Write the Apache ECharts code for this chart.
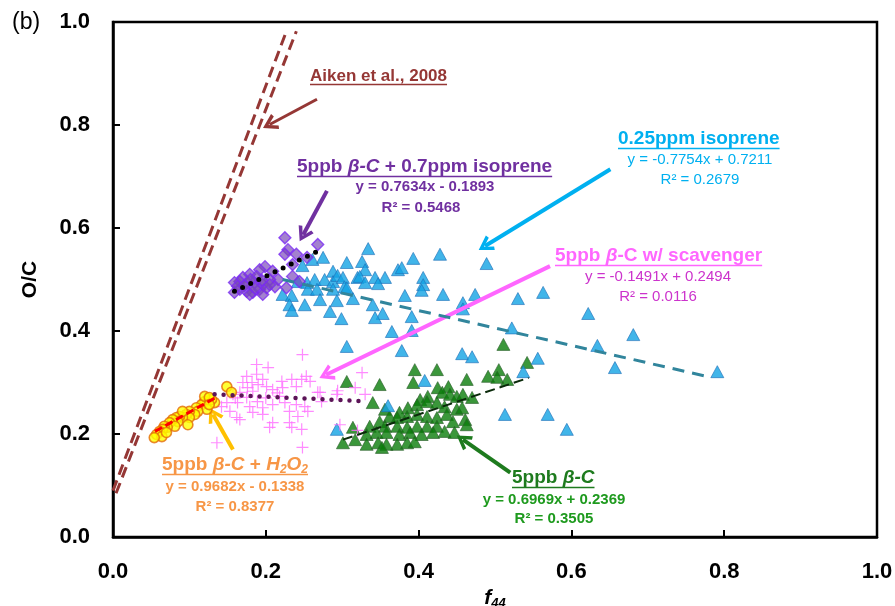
<!DOCTYPE html>
<html><head><meta charset="utf-8">
<script src="https://cdn.jsdelivr.net/npm/echarts@6/dist/echarts.min.js"></script>
<style>html,body{margin:0;padding:0;background:#fff;overflow:hidden}#c{width:895px;height:606px}</style>
</head><body><div id="c"></div>
<script>
// ---------- data (f44, O/C) ----------
const isoprene025 = [
[0.222,0.471],[0.234,0.469],[0.231,0.451],[0.251,0.451],[0.234,0.440],[0.242,0.496],[0.248,0.527],[0.254,0.494],
[0.261,0.539],[0.264,0.500],[0.255,0.481],[0.267,0.481],[0.271,0.461],[0.275,0.543],[0.277,0.500],[0.288,0.516],
[0.288,0.496],[0.288,0.481],[0.294,0.508],[0.301,0.504],[0.303,0.486],[0.306,0.533],[0.293,0.459],[0.284,0.438],
[0.299,0.424],[0.306,0.370],[0.314,0.463],[0.320,0.504],[0.326,0.535],[0.330,0.519],[0.334,0.560],[0.323,0.506],
[0.343,0.504],[0.330,0.494],[0.356,0.504],[0.347,0.492],[0.306,0.484],[0.340,0.451],[0.353,0.434],[0.343,0.426],
[0.373,0.519],[0.378,0.523],[0.393,0.541],[0.406,0.504],[0.406,0.490],[0.404,0.479],[0.382,0.469],[0.391,0.428],
[0.365,0.399],[0.391,0.401],[0.378,0.362],[0.428,0.549],[0.489,0.531],[0.432,0.471],[0.474,0.471],[0.458,0.455],
[0.458,0.443],[0.530,0.463],[0.563,0.475],[0.522,0.406],[0.457,0.356],[0.470,0.350],[0.556,0.347],[0.537,0.321],
[0.622,0.434],[0.634,0.372],[0.681,0.393],[0.657,0.329],[0.791,0.321],[0.408,0.304],[0.360,0.255],[0.293,0.209],
[0.513,0.238],[0.569,0.238],[0.594,0.209]
];
const betaC5 = [
[0.306,0.302],[0.349,0.296],[0.395,0.325],[0.424,0.325],[0.393,0.300],[0.425,0.290],[0.463,0.306],[0.491,0.312],
[0.505,0.325],[0.516,0.306],[0.542,0.339],[0.511,0.374],[0.503,0.310],[0.439,0.292],[0.431,0.281],[0.441,0.277],
[0.412,0.273],[0.402,0.267],[0.411,0.263],[0.450,0.273],[0.458,0.277],[0.470,0.271],[0.340,0.261],[0.356,0.248],
[0.386,0.251],[0.398,0.257],[0.424,0.261],[0.434,0.253],[0.450,0.248],[0.457,0.251],[0.375,0.242],[0.362,0.234],
[0.372,0.232],[0.385,0.234],[0.398,0.238],[0.411,0.234],[0.424,0.232],[0.437,0.238],[0.445,0.224],[0.461,0.228],
[0.463,0.218],[0.349,0.224],[0.336,0.215],[0.356,0.215],[0.372,0.215],[0.385,0.213],[0.398,0.215],[0.411,0.215],
[0.424,0.215],[0.314,0.213],[0.332,0.199],[0.345,0.203],[0.358,0.203],[0.375,0.199],[0.389,0.203],[0.404,0.199],
[0.419,0.203],[0.434,0.205],[0.447,0.203],[0.301,0.183],[0.317,0.189],[0.332,0.180],[0.347,0.183],[0.358,0.180],
[0.372,0.180],[0.385,0.183],[0.395,0.185],[0.352,0.174]
];
const scavenger = [
[0.248,0.354],[0.188,0.335],[0.203,0.329],[0.175,0.312],[0.188,0.316],[0.196,0.306],[0.182,0.300],[0.170,0.300],
[0.201,0.292],[0.221,0.302],[0.234,0.306],[0.247,0.306],[0.258,0.302],[0.209,0.286],[0.222,0.290],[0.240,0.292],
[0.183,0.283],[0.166,0.281],[0.157,0.277],[0.175,0.271],[0.189,0.263],[0.149,0.261],[0.163,0.261],[0.179,0.253],
[0.196,0.251],[0.209,0.257],[0.225,0.261],[0.240,0.257],[0.251,0.253],[0.271,0.281],[0.293,0.277],[0.273,0.263],
[0.255,0.244],[0.231,0.244],[0.242,0.234],[0.196,0.238],[0.166,0.228],[0.162,0.232],[0.209,0.222],[0.231,0.222],
[0.234,0.213],[0.247,0.209],[0.205,0.213],[0.136,0.183],[0.248,0.174],[0.142,0.253],[0.153,0.244],[0.183,0.242],
[0.218,0.273],[0.176,0.290],[0.326,0.319],[0.294,0.284],[0.317,0.290],[0.330,0.277],[0.297,0.218],[0.320,0.207],
[0.253,0.312],[0.268,0.281],[0.190,0.296],[0.200,0.270],[0.160,0.270],[0.215,0.280]
];
const h2o2 = [
[0.149,0.292],[0.155,0.281],[0.133,0.261],[0.129,0.267],[0.120,0.263],[0.116,0.257],[0.123,0.248],[0.109,0.251],
[0.111,0.244],[0.107,0.238],[0.100,0.244],[0.096,0.238],[0.100,0.232],[0.091,0.232],[0.087,0.234],[0.083,0.232],
[0.085,0.224],[0.078,0.228],[0.074,0.222],[0.081,0.215],[0.071,0.213],[0.067,0.215],[0.065,0.209],[0.061,0.205],
[0.057,0.199],[0.064,0.195],[0.054,0.193],[0.070,0.203],[0.120,0.273],[0.126,0.271],[0.091,0.244],[0.126,0.257],
[0.098,0.218]
];
const isopreneMix = [
[0.225,0.581],[0.268,0.568],[0.229,0.558],[0.225,0.549],[0.240,0.549],[0.254,0.543],[0.235,0.529],[0.199,0.525],
[0.192,0.519],[0.209,0.516],[0.216,0.500],[0.235,0.506],[0.244,0.496],[0.227,0.484],[0.179,0.510],[0.188,0.506],
[0.170,0.504],[0.166,0.496],[0.159,0.494],[0.176,0.494],[0.185,0.494],[0.196,0.490],[0.205,0.500],[0.159,0.475],
[0.166,0.481],[0.175,0.477],[0.183,0.475],[0.192,0.481],[0.196,0.471],[0.179,0.471],[0.201,0.484],[0.212,0.486],
[0.163,0.487],[0.172,0.488],[0.186,0.483],[0.195,0.498],[0.205,0.490],[0.180,0.500]
];
const aikenLeft  = [[0.000,0.090],[0.227,0.982]];
const aikenRight = [[0.004,0.085],[0.240,0.982]];
const fitMix      = [[0.159,0.477],[0.268,0.555]];
const fitIsoprene = [[0.222,0.500],[0.777,0.312]];
const fitScav     = [[0.133,0.277],[0.325,0.264]];
const fitH2O2     = [[0.055,0.205],[0.137,0.273]];
const fitBetaC    = [[0.301,0.189],[0.544,0.309]];
// arrows: [tail, head] in data units
const arrowAiken    = [[0.267,0.850],[0.205,0.801]];
const arrowMix      = [[0.280,0.672],[0.249,0.587]];
const arrowIsoprene = [[0.651,0.714],[0.487,0.565]];
const arrowScav     = [[0.572,0.526],[0.279,0.315]];
const arrowH2O2     = [[0.157,0.170],[0.131,0.238]];
const arrowBetaC    = [[0.520,0.125],[0.458,0.189]];
const eqMix = ['y = 0.7634x - 0.1893','R² = 0.5468'];
const eqIso = ['y = -0.7754x + 0.7211','R² = 0.2679'];
const eqScav = ['y = -0.1491x + 0.2494','R² = 0.0116'];
const eqH2O2 = ['y = 0.9682x - 0.1338','R² = 0.8377'];
const eqBetaC = ['y = 0.6969x + 0.2369','R² = 0.3505'];

// ---------- chart ----------
const FF = '"Liberation Sans", Arial, sans-serif';
const chart = echarts.init(document.getElementById('c'), null, {renderer:'canvas', width:895, height:606});
const mctx = document.createElement('canvas').getContext('2d');
function fontStr(t, size){ return (t==='i'||t==='si'?'italic ':'') + 'bold ' + (t==='si'?12:size) + 'px ' + FF; }
function title(x, y, segs, color, size){
  size = size || 19;
  let text = '', rich = {}, w = 0;
  segs.forEach((s) => {
    const key = 't' + s[1];
    text += '{' + key + '|' + s[0] + '}';
    rich[key] = {fill: color, fontFamily: FF, fontWeight:'bold', fontStyle: (s[1]==='i'||s[1]==='si')?'italic':'normal',
                 fontSize: s[1]==='si'?12:size, padding: s[1]==='si'?[10,0,0,0]:0};
    mctx.font = fontStr(s[1], size);
    w += mctx.measureText(s[0]).width;
  });
  return [
    {type:'text', x:x, y:y, z:100, style:{text:text, rich:rich, align:'left', verticalAlign:'middle'}},
    {type:'line', z:100, shape:{x1:x, y1:y+size/2, x2:x+w, y2:y+size/2}, style:{stroke:color, lineWidth:1.6}}
  ];
}
function eq(x, y, str, color, bold){
  return {type:'text', x:x, y:y, z:100, style:{text:str, fill:color, font:(bold?'bold ':'')+'15px '+FF, align:'center', verticalAlign:'middle'}};
}
const chevron = 'path://M0,10 L6,0 L12,10 L9.6,11 L6,4.6 L2.4,11 Z';
function arrowSeries(a, color, width){
  return {type:'scatter', data:[], silent:true, z:20,
    markLine:{silent:true, symbol:['none', chevron], symbolSize:[17,15], animation:false,
      label:{show:false}, lineStyle:{color:color, width:width, type:'solid'},
      emphasis:{disabled:true},
      data:[[{coord:a[0]},{coord:a[1]}]]}};
}
function fitSeries(d, color, width, type, cap){
  return {type:'line', data:d, symbol:'none', silent:true, z:15, animation:false,
    lineStyle:{color:color, width:width, type:type, cap:cap||'butt'}};
}
const plus = 'path://M5.4,0h1.2v5.4h5.4v1.2h-5.4v5.4h-1.2v-5.4h-5.4v-1.2h5.4z';

const graphics = [].concat(
  [{type:'text', x:12, y:23, style:{text:'(b)', font:'23px '+FF, fill:'#000', align:'left', verticalAlign:'middle'}}],
  title(310, 76, [['Aiken et al., 2008','n']], '#953735', 17),
  title(297, 167, [['5ppb ','n'],['β-C','i'],[' + 0.7ppm isoprene','n']], '#7030A0'),
  [eq(425, 187, eqMix[0], '#7030A0', true), eq(421, 208, eqMix[1], '#7030A0', true)],
  title(618, 139, [['0.25ppm isoprene','n']], '#00B0F0'),
  [eq(700, 160, eqIso[0], '#00B0F0', false), eq(700, 180, eqIso[1], '#00B0F0', false)],
  title(555, 256, [['5ppb ','n'],['β','i'],['-C w/ scavenger','n']], '#FF66FF'),
  [eq(658, 277, eqScav[0], '#CC33CC', false), eq(658, 297, eqScav[1], '#CC33CC', false)],
  title(162, 465, [['5ppb ','n'],['β-C','i'],[' + ','n'],['H','i'],['2','si'],['O','i'],['2','si']], '#F79646'),
  [eq(235, 487, eqH2O2[0], '#F79646', true), eq(235, 507, eqH2O2[1], '#F79646', true)],
  title(512, 478, [['5ppb ','n'],['β-C','i']], '#1E7B1E'),
  [eq(554, 500, eqBetaC[0], '#1E9A1E', true), eq(554, 519, eqBetaC[1], '#1E9A1E', true)]
);

const option = {
  animation:false,
  backgroundColor:'#fff',
  grid:{left:113, right:18, top:22, bottom:69, containLabel:false, outerBoundsMode:'none',
        show:true, borderColor:'#000', borderWidth:2.5},
  xAxis:{type:'value', min:0, max:1, interval:0.2,
    axisLine:{show:true, lineStyle:{color:'#000', width:2.5}},
    axisTick:{show:true, inside:true, length:7, lineStyle:{color:'#000', width:2}},
    axisLabel:{formatter:v=>v.toFixed(1), fontSize:22, fontWeight:'bold', color:'#000', margin:24, fontFamily:FF},
    splitLine:{show:false},
    name:'{f|f}{s|44}', nameLocation:'middle', nameGap:42,
    nameTextStyle:{rich:{f:{fontSize:21, fontWeight:'bold', fontStyle:'italic', color:'#000', fontFamily:FF},
                         s:{fontSize:13, fontWeight:'bold', fontStyle:'italic', color:'#000', fontFamily:FF, padding:[10,0,0,0]}}}},
  yAxis:{type:'value', min:0, max:1, interval:0.2,
    axisLine:{show:true, lineStyle:{color:'#000', width:2.5}},
    axisTick:{show:true, inside:true, length:7, lineStyle:{color:'#000', width:2}},
    axisLabel:{formatter:v=>v.toFixed(1), fontSize:22, fontWeight:'bold', color:'#000', margin:23, fontFamily:FF},
    splitLine:{show:false},
    name:'O/C', nameLocation:'middle', nameRotate:90, nameGap:72,
    nameTextStyle:{fontSize:21, fontWeight:'bold', color:'#000', fontFamily:FF}},
  graphic:graphics,
  series:[
    fitSeries(aikenLeft, '#953735', 3, [11,6]),
    fitSeries(aikenRight, '#953735', 3, [11,6]),
    {type:'scatter', data:betaC5, symbol:'triangle', symbolSize:[13,12], z:3,
      itemStyle:{color:'#0A7D0A', borderColor:'#2B5E2B', borderWidth:0.8}},
    {type:'scatter', data:isoprene025, symbol:'triangle', symbolSize:[13,12], z:4,
      itemStyle:{color:'#12A3E3', borderColor:'#1F6FB8', borderWidth:0.8}},
    {type:'scatter', data:scavenger, symbol:plus, symbolSize:12, z:5,
      itemStyle:{color:'#FF6EFF'}},
    {type:'scatter', data:h2o2, symbol:'circle', symbolSize:10, z:6,
      itemStyle:{color:'#FFFF00', borderColor:'#E36C09', borderWidth:1.6}},
    {type:'scatter', data:isopreneMix, symbol:'diamond', symbolSize:12, z:7,
      itemStyle:{color:'rgba(120,70,185,0.85)', borderColor:'#7A2BF5', borderWidth:1.3}},
    fitSeries(fitIsoprene, '#31859C', 3, [12,8]),
    fitSeries(fitMix, '#000000', 5, [0,9], 'round'),
    fitSeries(fitScav, '#5C1458', 4.5, [0,9], 'round'),
    fitSeries(fitH2O2, '#FF0000', 3, [8,4]),
    fitSeries(fitBetaC, '#0A2A0A', 2, [10,5]),
    arrowSeries(arrowAiken, '#953735', 3),
    arrowSeries(arrowMix, '#7030A0', 4),
    arrowSeries(arrowIsoprene, '#00B0F0', 4),
    arrowSeries(arrowScav, '#FF66FF', 4),
    arrowSeries(arrowH2O2, '#FFC000', 4),
    arrowSeries(arrowBetaC, '#1E7B1E', 4)
  ]
};
chart.setOption(option);
</script></body></html>
